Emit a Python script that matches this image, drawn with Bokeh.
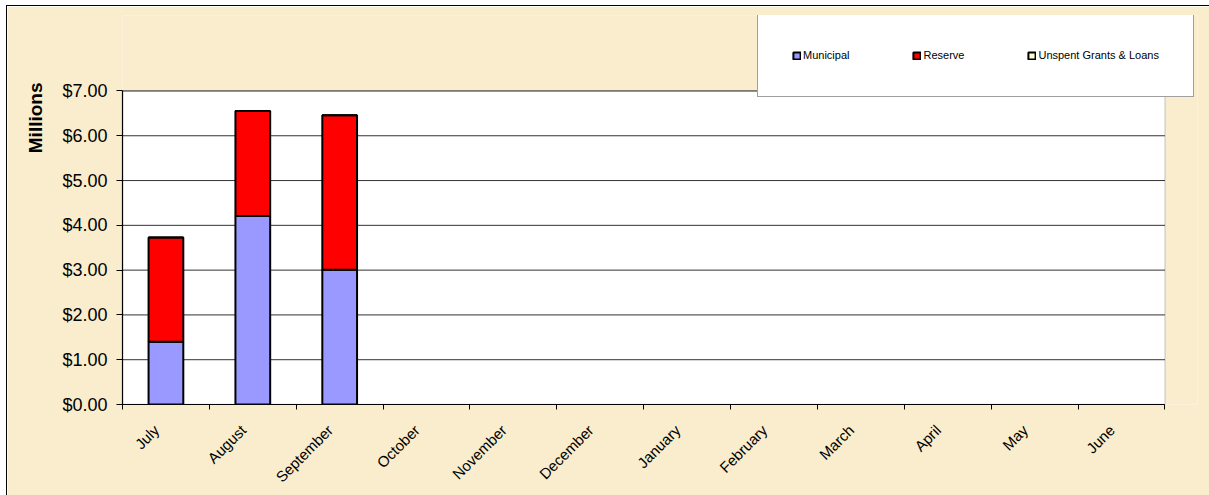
from math import pi

from bokeh.embed import file_html
from bokeh.models import (BoxAnnotation, ColumnDataSource, FixedTicker, Legend,
                          LegendItem, NumeralTickFormatter, Range1d, Title)
from bokeh.plotting import figure
from bokeh.resources import INLINE

# Fiscal-year months and monthly balances (millions of dollars)
months = ["July", "August", "September", "October", "November", "December",
          "January", "February", "March", "April", "May", "June"]
reported_months = ["July", "August", "September"]
municipal = [1.40, 4.21, 3.01]
reserve = [2.33, 2.34, 3.45]
unspent = [0.0, 0.0, 0.0]

series = ["Municipal", "Reserve", "Unspent Grants & Loans"]
colors = ["#9999ff", "#ff0000", "#ffffcc"]
y_ticks = [0, 1, 2, 3, 4, 5, 6, 7]

FONT = "Liberation Sans"
PAPER = "#f9edcd"

n = len(months)
y_top = y_ticks[-1]
pos = {m: i + 0.5 for i, m in enumerate(months)}
source = ColumnDataSource(dict(
    x=[pos[m] for m in reported_months],
    Municipal=municipal,
    Reserve=reserve,
    **{"Unspent Grants & Loans": unspent},
))

# The frame reaches up and right past the plot area so the legend box fits inside it.
p = figure(width=1205, height=492, output_backend="svg", toolbar_location=None,
           x_range=Range1d(0, n * 1.0312), y_range=Range1d(0, y_top * 1.2407),
           min_border_left=115, min_border_right=15,
           min_border_top=9, min_border_bottom=94)

# chart border: white page margin, black line on the left and top edges
p.styles = {"margin-left": "6px", "margin-top": "5px",
            "border-left": "1.5px solid black", "border-top": "1.5px solid black"}

p.background_fill_color = PAPER
p.border_fill_color = PAPER
p.outline_line_color = None

# white plot area with grey edge
p.add_layout(BoxAnnotation(left=0, right=n, bottom=0, top=y_top,
                           fill_color="white", fill_alpha=1.0,
                           line_color="#808080", line_width=1.5, level="underlay"))

# horizontal gridlines across the plot area
p.segment(x0=[0] * len(y_ticks), x1=[n] * len(y_ticks), y0=y_ticks, y1=y_ticks,
          line_color="#333333", line_width=1)

renderers = p.vbar_stack(series, x="x", width=0.4, source=source,
                         fill_color=colors, line_color="black", line_width=2)

# Y axis: dollar values
p.yaxis.bounds = (0, y_top)
p.yaxis.ticker = FixedTicker(ticks=y_ticks)
p.yaxis.formatter = NumeralTickFormatter(format="$0.00")
p.yaxis.major_label_text_font = FONT
p.yaxis.major_label_text_font_size = "18px"
p.yaxis.major_label_text_color = "black"
p.yaxis.major_label_standoff = 9
p.yaxis.axis_line_color = "black"
p.yaxis.axis_line_width = 1.2
p.yaxis.major_tick_line_color = "black"
p.yaxis.major_tick_in = 0
p.yaxis.major_tick_out = 6
p.yaxis.minor_tick_line_color = None

# value-axis title, placed near the top of the axis
p.add_layout(Title(text="Millions", align="right", offset=67, standoff=28,
                   text_font=FONT, text_font_style="bold", text_font_size="19px",
                   text_color="black"), "left")

# X axis: month names, tick marks on category boundaries
label_at = [pos[m] - 0.11 for m in months]
p.xaxis.bounds = (0, n)
p.xaxis.ticker = FixedTicker(ticks=label_at, minor_ticks=list(range(n + 1)))
p.xaxis.major_label_overrides = dict(zip(label_at, months))
p.xaxis.major_label_orientation = pi / 4
p.xaxis.major_label_text_font = FONT
p.xaxis.major_label_text_font_size = "15px"
p.xaxis.major_label_text_color = "black"
p.xaxis.major_label_standoff = 18
p.xaxis.major_tick_in = 0
p.xaxis.major_tick_out = 0
p.xaxis.minor_tick_in = 0
p.xaxis.minor_tick_out = 5
p.xaxis.minor_tick_line_color = "black"
p.xaxis.axis_line_color = "black"
p.xaxis.axis_line_width = 1.2

p.xgrid.grid_line_color = None
p.ygrid.grid_line_color = None

legend = Legend(items=[LegendItem(label=s, renderers=[r]) for s, r in zip(series, renderers)],
                orientation="horizontal", location=(635, 307), margin=0,
                padding=34, spacing=63, label_standoff=2,
                glyph_width=9, glyph_height=9, label_height=14, label_width=10,
                label_text_font=FONT, label_text_font_size="11px",
                label_text_color="black",
                border_line_color="#404040", border_line_width=1.2,
                background_fill_color="white", background_fill_alpha=1.0)
p.add_layout(legend, "center")

open("out.html", "w").write(file_html(p, INLINE))
